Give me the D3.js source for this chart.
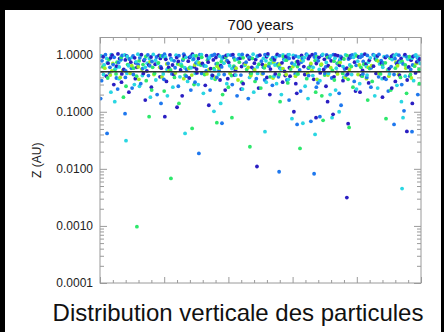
<!DOCTYPE html>
<html><head><meta charset="utf-8">
<script src="https://cdn.jsdelivr.net/npm/d3@7"></script>
<style>html,body{margin:0;padding:0;background:#000;}svg{display:block}</style>
</head><body>
<svg id="chart" width="444" height="332"></svg>
<script>
// Particle heights Z (AU) after 700 years, as [x, z] pairs grouped by colour class.
const darkBlue = [[1,0.92],[2.5,0.71],[3.8,0.98],[5.2,0.63],[6.1,0.85],[7.4,0.55],[8.3,0.95],[9.6,0.74],[10.8,0.88],[11.5,0.6],[12.9,1.0],[13.7,0.79],[14.6,0.52],[15.9,0.91],[17.2,0.68],[18.4,0.97],[19.1,0.58],[20.5,0.83],[21.8,0.99],[22.6,0.66],[23.9,0.89],[25.1,0.54],[26.3,0.94],[27.5,0.77],[28.8,1.02],[29.4,0.61],[30.7,0.86],[31.9,0.7],[33.2,0.96],[34.5,0.57],[35.3,0.81],[36.8,0.99],[37.6,0.64],[38.9,0.9],[40.1,0.73],[41.4,1.0],[42.2,0.53],[43.7,0.87],[44.9,0.69],[46.0,0.95],[47.3,0.6],[48.5,0.82],[49.8,0.98],[50.6,0.67],[51.9,0.92],[53.1,0.56],[54.4,0.84],[55.2,1.01],[56.7,0.72],[57.9,0.93],[59.0,0.59],[60.3,0.88],[61.6,0.76],[62.8,0.97],[63.5,0.62],[64.9,0.85],[66.1,1.0],[67.4,0.7],[68.2,0.9],[69.7,0.55],[70.8,0.94],[72.0,0.78],[73.3,0.99],[74.6,0.65],[75.4,0.87],[76.9,0.58],[78.1,0.96],[79.3,0.74],[80.6,0.91],[81.8,0.53],[82.5,1.02],[83.9,0.8],[85.2,0.63],[86.4,0.95],[87.7,0.71],[88.9,0.89],[90.1,0.57],[91.3,0.98],[92.6,0.68],[93.8,0.86],[95.0,1.0],[96.2,0.61],[97.5,0.93],[98.7,0.75],[99.6,0.84],
 [7.9,0.81],[15.2,0.66],[3.3,0.88],[44.1,0.62],[27.9,0.9],[61.9,0.69],[85.9,0.83],[52.3,1.03],[33.7,0.74],[71.1,0.64],[90.8,0.93],[18.8,0.86],[57.5,0.51],[39.3,0.97],[77.8,0.88],[11.1,0.72],[65.3,0.93],[24.4,0.76],[96.9,0.8],[48.1,0.71],[82.9,0.69],[36.1,0.89],[5.6,1.03],[69.9,0.83],[30.1,0.56],[93.1,0.77],[46.5,0.84],[58.4,0.91],[21.4,0.6],[74.1,0.96],
 [2.0,0.42],[4.3,0.3],[6.8,0.46],[9.0,0.22],[11.0,0.38],[13.5,0.47],[16.0,0.27],[18.7,0.41],[20.7,0.34],[23.0,0.45],[25.6,0.19],[27.8,0.39],[30.2,0.48],[32.8,0.29],[35.1,0.43],[37.4,0.36],[39.0,0.24],[41.9,0.44],[44.6,0.31],[46.9,0.47],[49.4,0.26],[52.0,0.4],[54.6,0.46],[56.9,0.33],[59.2,0.42],[61.3,0.21],[63.8,0.45],[66.6,0.37],[68.6,0.48],[70.4,0.28],[72.9,0.41],[75.7,0.35],[77.2,0.46],[79.6,0.23],[81.4,0.43],[83.7,0.32],[86.0,0.47],[88.6,0.39],[90.9,0.26],[93.3,0.44],[95.7,0.36],[98.3,0.48],
 [14.1,0.16],[33.9,0.13],[52.9,0.2],[70.9,0.15],[88.0,0.18],[6.7,0.33],[44.0,0.25],[61.0,0.31],[81.0,0.22],[97.3,0.14],[24.0,0.12],[57.7,0.43],[39.8,0.38],[73.8,0.49],[92.0,0.34],
 [20.2,0.082],[48.9,0.011],[60.4,0.1],[67.3,0.0788],[72.6,0.0901],[76.9,0.00314],[77.3,0.0618],[95.6,0.0453]];

const midBlue = [[0.6,0.78],[1.7,1.0],[3.1,0.6],[4.4,0.9],[5.8,0.73],[6.9,0.97],[8.0,0.52],[9.2,0.84],[10.3,0.95],[11.9,0.67],[12.4,0.88],[13.3,0.57],[14.9,0.99],[16.2,0.76],[17.6,0.91],[18.9,0.62],[20.1,1.02],[21.2,0.7],[22.1,0.86],[23.4,0.59],[24.6,0.96],[25.8,0.8],[27.0,0.55],[28.2,0.93],[29.9,0.72],[31.1,1.0],[32.4,0.64],[33.8,0.87],[35.0,0.97],[36.2,0.69],[37.1,0.53],[38.4,0.92],[39.6,0.79],[40.8,0.98],[42.0,0.6],[43.1,0.85],[44.3,1.01],[45.5,0.74],[46.7,0.9],[47.9,0.56],[49.2,0.95],[50.3,0.77],[51.4,1.0],[52.6,0.63],[53.8,0.89],[55.9,0.96],[56.1,0.58],[57.3,0.82],[58.6,0.99],[59.8,0.71],[61.0,0.94],[62.2,0.54],[63.1,0.86],[64.3,1.02],[65.6,0.66],[66.8,0.91],[68.0,0.78],[69.1,0.97],[70.3,0.61],[71.5,0.88],[72.7,1.0],[73.9,0.7],[75.0,0.93],[76.2,0.56],[77.4,0.84],[78.6,0.99],[79.8,0.65],[81.1,0.9],[82.0,0.76],[83.3,0.97],[84.5,0.59],[85.8,0.87],[86.9,1.01],[88.2,0.72],[89.4,0.94],[90.7,0.62],[91.9,0.85],[93.1,0.98],[94.4,0.69],[95.6,0.91],[96.8,0.55],[98.1,0.96],[99.2,0.79],
 [4.1,0.67],[26.1,1.02],[58.9,0.86],[13.9,0.83],[81.6,0.94],[37.9,0.61],[67.1,1.03],[45.9,0.97],[9.8,0.58],[87.6,0.79],[29.2,0.84],[55.4,0.69],[74.7,0.8],[19.6,0.95],[98.9,0.88],[41.7,0.88],[62.7,0.74],[33.1,0.52],[92.4,0.71],[15.5,0.64],[50.9,0.6],[78.2,0.91],[6.5,0.83],[70.6,0.99],[23.1,0.78],[85.1,1.0],[54.3,0.8],[97.4,0.66],[35.7,1.01],[64.9,0.58],
 [0.5,0.35],[3.0,0.47],[5.5,0.25],[7.9,0.4],[10.4,0.45],[12.7,0.31],[15.1,0.43],[17.8,0.2],[19.9,0.37],[22.4,0.46],[24.4,0.28],[26.9,0.42],[29.6,0.33],[31.7,0.47],[34.3,0.24],[36.4,0.4],[38.7,0.45],[41.2,0.3],[43.9,0.44],[46.2,0.17],[48.7,0.38],[50.8,0.47],[53.7,0.29],[55.6,0.41],[58.2,0.36],[60.8,0.46],[62.5,0.23],[65.0,0.43],[67.9,0.32],[70.1,0.47],[72.2,0.39],[74.5,0.21],[76.7,0.44],[79.2,0.34],[81.9,0.46],[84.4,0.27],[86.8,0.41],[89.1,0.37],[91.6,0.45],[94.0,0.3],[96.5,0.42],[99.0,0.2],
 [0.2,0.17],[19.0,0.14],[28.3,0.24],[42.7,0.19],[58.9,0.16],[75.1,0.13],[89.8,0.23],[10.0,0.26],[67.4,0.27],[51.3,0.36],[83.1,0.4],[34.9,0.44],[5.1,0.39],
 [2.2,0.0418],[7.8,0.0927],[30.8,0.0186],[38.0,0.0629],[55.8,0.0089],[61.4,0.0601],[65.7,0.0679],[66.7,0.0082],[68.5,0.082],[91.6,0.0601],[94.7,0.104],[97.2,0.0448]];

const cyan = [[0.3,0.95],[1.3,0.66],[2.1,0.86],[3.5,1.0],[4.9,0.58],[6.4,0.8],[7.7,0.99],[8.9,0.64],[10.0,0.9],[11.2,0.75],[12.6,0.97],[14.1,0.6],[15.4,0.85],[16.6,1.01],[18.0,0.7],[19.5,0.93],[20.9,0.55],[22.3,0.81],[23.7,0.98],[25.3,0.68],[26.8,0.9],[28.4,0.59],[29.1,0.96],[30.3,0.76],[31.6,1.0],[33.0,0.63],[34.1,0.88],[35.7,0.53],[37.3,0.94],[38.6,0.71],[39.9,0.99],[41.1,0.57],[42.7,0.83],[44.0,0.96],[45.1,0.65],[46.4,0.89],[47.7,1.02],[49.0,0.61],[50.9,0.86],[52.2,0.97],[53.5,0.72],[54.8,0.92],[56.3,0.56],[57.6,0.8],[58.9,1.0],[60.6,0.67],[61.9,0.91],[63.3,0.78],[64.6,0.98],[66.4,0.6],[67.7,0.87],[69.4,1.01],[70.5,0.73],[71.8,0.95],[73.6,0.58],[74.9,0.84],[76.5,0.99],[77.8,0.66],[79.0,0.9],[80.3,0.77],[81.5,1.0],[83.0,0.62],[84.2,0.88],[85.5,0.97],[87.1,0.69],[88.5,0.92],[89.8,0.54],[91.0,0.82],[92.3,1.01],[93.5,0.74],[94.8,0.95],[96.0,0.6],[97.2,0.87],[98.4,0.99],[99.8,0.7],
 [2.3,0.73],[17.3,0.8],[48.9,0.93],[73.2,0.87],[30.6,0.68],[91.7,0.95],[11.8,1.02],[60.2,0.97],[38.0,0.85],[83.6,0.74],[6.0,0.61],[54.5,0.66],[26.4,0.59],[95.9,0.83],[43.3,1.0],[68.3,0.55],[20.4,0.91],[79.5,1.02],[34.6,0.96],[88.1,0.6],[14.7,0.71],[63.7,0.89],[51.7,0.78],[99.1,0.9],[40.4,0.64],[75.7,0.62],[8.5,0.93],[57.0,0.99],[28.9,0.82],[86.2,0.91],
 [1.1,0.45],[3.4,0.22],[5.9,0.38],[8.4,0.47],[10.7,0.3],[13.2,0.43],[15.7,0.18],[17.4,0.36],[19.7,0.46],[22.7,0.27],[24.9,0.41],[27.3,0.34],[29.7,0.47],[32.2,0.21],[34.8,0.39],[37.0,0.45],[39.5,0.31],[42.3,0.44],[44.4,0.25],[46.6,0.4],[49.1,0.47],[51.8,0.33],[54.2,0.42],[56.5,0.2],[58.7,0.37],[61.4,0.46],[63.9,0.28],[66.3,0.43],[68.5,0.35],[71.2,0.47],[73.4,0.24],[75.9,0.4],[78.4,0.45],[80.9,0.31],[83.2,0.44],[85.6,0.19],[87.9,0.38],[90.2,0.46],[92.5,0.29],[95.1,0.42],[97.7,0.35],
 [4.6,0.15],[21.0,0.19],[37.6,0.14],[47.9,0.22],[64.8,0.17],[79.9,0.25],[93.9,0.15],[12.3,0.28],[55.0,0.31],[71.7,0.2],[30.6,0.3],[86.5,0.26],
 [8.1,0.0311],[26.5,0.0418],[35.5,0.1017],[51.4,0.0448],[59.8,0.0757],[63.2,0.0629],[67.0,0.0401],[72.3,0.0788],[74.5,0.1],[94.1,0.00452],[94.4,0.0788]];

const green = [[0.9,0.62],[2.8,0.82],[4.7,0.55],[6.6,0.9],[8.6,0.67],[10.5,0.58],[12.2,0.78],[14.3,0.93],[16.4,0.6],[18.2,0.72],[20.3,0.88],[22.0,0.54],[24.2,0.69],[26.0,0.85],[28.0,0.6],[30.0,0.95],[31.4,0.66],[33.5,0.8],[35.5,0.57],[37.8,0.76],[39.2,0.91],[41.7,0.63],[43.4,0.74],[45.7,0.55],[47.5,0.86],[49.5,0.68],[51.2,0.59],[53.3,0.83],[55.5,0.64],[57.1,0.92],[59.4,0.56],[61.2,0.75],[63.0,0.88],[65.1,0.6],[67.0,0.79],[68.8,0.66],[70.9,0.9],[72.4,0.53],[74.2,0.71],[76.0,0.84],[78.3,0.62],[80.0,0.95],[82.2,0.68],[84.0,0.57],[86.1,0.8],[88.0,0.65],[90.4,0.87],[92.0,0.58],[94.1,0.76],[96.4,0.92],[98.0,0.63],[99.4,0.55],
 [5.3,0.74],[19.0,0.95],[36.6,0.7],[58.1,0.8],[77.0,0.96],[44.6,0.88],[13.4,0.67],[88.9,0.72],[25.5,0.63],[67.5,0.92],[52.7,0.7],[95.1,0.66],[31.7,0.9],[81.3,0.6],[9.1,0.84],[61.5,0.62],[42.0,0.81],[72.9,0.77],
 [2.4,0.39],[5.0,0.46],[8.1,0.28],[11.4,0.42],[14.4,0.35],[17.0,0.47],[20.0,0.23],[23.2,0.4],[26.5,0.44],[29.3,0.3],[32.6,0.45],[35.9,0.37],[38.2,0.2],[41.0,0.43],[44.2,0.33],[47.1,0.47],[50.1,0.26],[53.0,0.41],[55.8,0.45],[58.5,0.32],[61.7,0.46],[64.4,0.38],[67.2,0.22],[70.0,0.44],[73.0,0.36],[75.6,0.47],[78.8,0.27],[81.7,0.42],[84.8,0.34],[87.4,0.46],[90.6,0.24],[93.6,0.4],[96.7,0.45],[99.5,0.31],
 [7.3,0.18],[24.6,0.14],[40.0,0.27],[56.1,0.15],[69.1,0.19],[83.4,0.16],[95.5,0.21],[16.1,0.24],[48.3,0.34],[77.3,0.37],
 [11.5,0.00097],[15.3,0.082],[22.1,0.0068],[28.7,0.0511],[36.4,0.0644],[41.1,0.0788],[46.7,0.0244],[62.3,0.0228],[69.5,0.0707],[77.6,0.0532],[89.1,0.0757]];

const yellowGreen = [[1.5,0.58],[4.0,0.7],[7.1,0.53],[9.9,0.64],[13.0,0.56],[15.6,0.75],[18.6,0.6],[21.5,0.52],[24.8,0.67],[27.7,0.57],[30.9,0.72],[34.0,0.55],[36.5,0.63],[39.4,0.78],[42.4,0.58],[45.3,0.69],[48.2,0.54],[51.6,0.65],[54.1,0.74],[57.0,0.57],[60.1,0.62],[62.9,0.8],[66.0,0.53],[69.0,0.68],[71.9,0.59],[74.8,0.73],[77.7,0.55],[80.8,0.66],[83.6,0.6],[86.7,0.77],[89.6,0.54],[92.7,0.64],[95.3,0.58],[98.5,0.7],
 [11.9,0.61],[29.5,0.66],[46.2,0.6],[65.7,0.7],[84.6,0.64],[3.7,0.52],[56.0,0.68],[37.1,0.58],[92.2,0.74],[20.8,0.69],
 [3.2,0.44],[6.3,0.4],[9.4,0.47],[12.1,0.37],[16.8,0.45],[19.3,0.41],[23.5,0.48],[26.1,0.38],[28.6,0.44],[33.3,0.46],[36.0,0.4],[40.5,0.47],[43.0,0.36],[47.0,0.43],[50.5,0.46],[53.9,0.39],[58.0,0.45],[60.9,0.42],[64.7,0.47],[67.6,0.37],[71.0,0.44],[74.0,0.46],[76.4,0.4],[80.4,0.45],[83.0,0.38],[87.0,0.47],[90.0,0.42],[93.0,0.45],[97.0,0.39]];

const seriesColors = {darkBlue:"#2a1ec2", midBlue:"#1f78ee", cyan:"#2ad6e2", green:"#2ee86c", yellowGreen:"#a2ee22"};
const yTickValues = [1, 0.1, 0.01, 0.001, 0.0001];
const yTickLabels = ["1.0000", "0.1000", "0.0100", "0.0010", "0.0001"];
const xMajorTicks = [0, 20, 40, 60, 80, 100];
const referenceZ = 0.5;

const svg = d3.select("#chart");
svg.append("rect").attr("x", 5).attr("y", 10).attr("width", 436).attr("height", 322).attr("fill", "#fff");

const L = 100, R = 421, T = 37.5, B = 283;
const x = d3.scaleLinear().domain([0, 100]).range([L, R]);
const y = d3.scaleLog().domain([1e-4, 2]).range([B, T]);

// minor ticks: 2..9 in every decade, every 4 units on x
const yMinor = [];
[1e-4, 1e-3, 1e-2, 1e-1, 1].forEach(d => { for (let k = 2; k <= 9; k++) { if (d * k < 2) yMinor.push(d * k); } });
const xMinor = d3.range(0, 101, 4).filter(v => v % 20 !== 0);

const axisColor = "#9a9a9a";
function styleAxis(g) {
  g.select(".domain").remove();
  g.selectAll(".tick line").attr("stroke", axisColor).attr("stroke-width", 1);
}
const labelFmt = d => yTickLabels[yTickValues.indexOf(d)];

svg.append("g").attr("transform", `translate(${L},0)`)
  .call(d3.axisLeft(y).tickValues(yTickValues).tickSize(-7).tickPadding(7).tickFormat(labelFmt))
  .call(styleAxis)
  .call(g => g.selectAll("text").attr("fill", "#222").attr("font-family", "Liberation Sans, Arial, sans-serif").attr("font-size", 12));
svg.append("g").attr("transform", `translate(${L},0)`)
  .call(d3.axisLeft(y).tickValues(yMinor).tickSize(-4).tickFormat("")).call(styleAxis);
svg.append("g").attr("transform", `translate(${R},0)`)
  .call(d3.axisRight(y).tickValues(yTickValues).tickSize(-7).tickFormat("")).call(styleAxis);
svg.append("g").attr("transform", `translate(${R},0)`)
  .call(d3.axisRight(y).tickValues(yMinor).tickSize(-4).tickFormat("")).call(styleAxis);
svg.append("g").attr("transform", `translate(0,${T})`)
  .call(d3.axisTop(x).tickValues(xMajorTicks).tickSize(-6).tickFormat("")).call(styleAxis);
svg.append("g").attr("transform", `translate(0,${T})`)
  .call(d3.axisTop(x).tickValues(xMinor).tickSize(-3).tickFormat("")).call(styleAxis);
svg.append("g").attr("transform", `translate(0,${B})`)
  .call(d3.axisBottom(x).tickValues(xMajorTicks).tickSize(-6).tickFormat("")).call(styleAxis);
svg.append("g").attr("transform", `translate(0,${B})`)
  .call(d3.axisBottom(x).tickValues(xMinor).tickSize(-3).tickFormat("")).call(styleAxis);

svg.append("defs").append("clipPath").attr("id", "plot-clip")
  .append("rect").attr("x", L).attr("y", T).attr("width", R - L).attr("height", B - T);

// all particles, interleaved by x so the colours overlap naturally
const particles = [];
Object.entries({darkBlue, midBlue, cyan, green, yellowGreen}).forEach(([k, arr]) =>
  arr.forEach(p => particles.push({x: p[0], z: p[1], c: seriesColors[k]})));
particles.sort((a, b) => a.x - b.x);

svg.append("g").attr("clip-path", "url(#plot-clip)")
  .selectAll("circle").data(particles).join("circle")
  .attr("cx", d => x(d.x)).attr("cy", d => y(d.z)).attr("r", 1.9).attr("fill", d => d.c);

svg.append("line").attr("x1", L).attr("x2", R).attr("y1", y(referenceZ)).attr("y2", y(referenceZ))
  .attr("stroke", "#333").attr("stroke-width", 1.5);

// frame
svg.append("rect").attr("x", L).attr("y", T).attr("width", R - L).attr("height", B - T)
  .attr("fill", "none").attr("stroke", axisColor).attr("stroke-width", 1);

svg.append("text").attr("x", (L + R) / 2).attr("y", 30).attr("text-anchor", "middle")
  .attr("font-family", "Liberation Sans, Arial, sans-serif").attr("font-size", 15).attr("fill", "#111")
  .text("700 years");
svg.append("text").attr("transform", `translate(41,${(T + B) / 2}) rotate(-90)`).attr("text-anchor", "middle")
  .attr("font-family", "Liberation Sans, Arial, sans-serif").attr("font-size", 12).attr("fill", "#222")
  .text("Z (AU)");
svg.append("text").attr("x", 238).attr("y", 321).attr("text-anchor", "middle")
  .attr("font-family", "Liberation Sans, Arial, sans-serif").attr("font-size", 24).attr("fill", "#111")
  .text("Distribution verticale des particules");
</script>
</body></html>
